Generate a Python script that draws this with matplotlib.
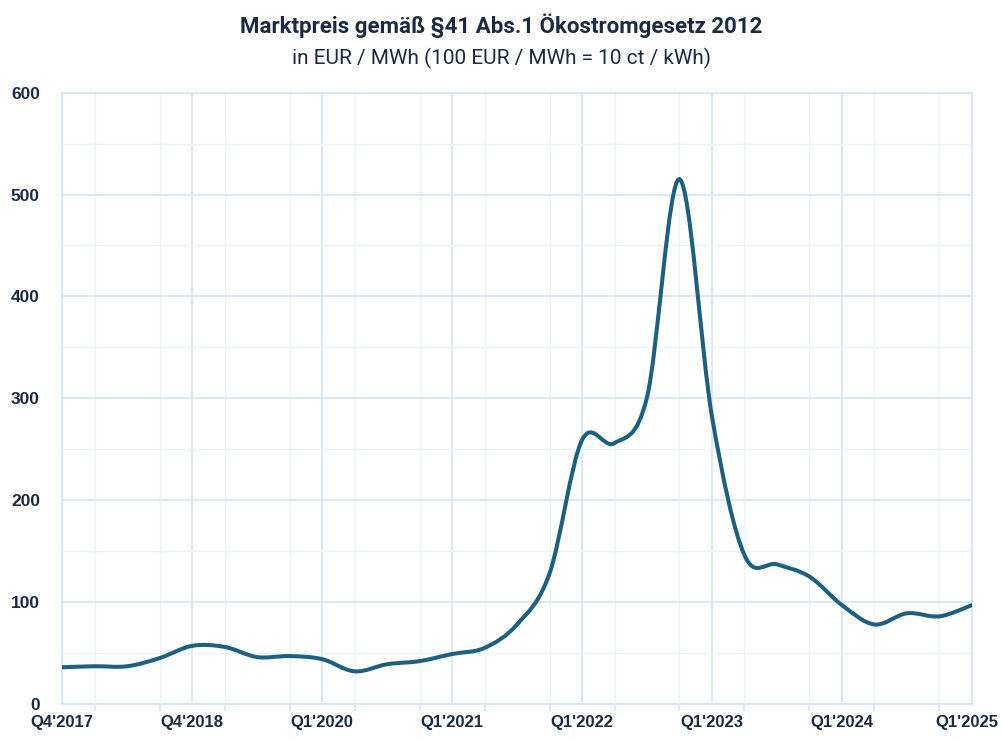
import matplotlib
matplotlib.use("Agg")
import matplotlib.pyplot as plt
import matplotlib.transforms as mtransforms
import numpy as np
from matplotlib.path import Path
from matplotlib.patches import PathPatch

# quarters (one quarter of 2019 is not in the source series)
quarters = ["Q4'2017", "Q1'2018", "Q2'2018", "Q3'2018", "Q4'2018",
            "Q1'2019", "Q2'2019", "Q3'2019", "Q1'2020",
            "Q2'2020", "Q3'2020", "Q4'2020", "Q1'2021",
            "Q2'2021", "Q3'2021", "Q4'2021", "Q1'2022",
            "Q2'2022", "Q3'2022", "Q4'2022", "Q1'2023",
            "Q2'2023", "Q3'2023", "Q4'2023", "Q1'2024",
            "Q2'2024", "Q3'2024", "Q4'2024", "Q1'2025"]
price = [36, 37, 37, 45, 57, 56, 46, 47, 44, 32, 39, 42, 49, 55,
         78, 128, 259, 256, 301, 515, 282, 146, 137, 125, 97, 78, 89, 86, 97]
shown_labels = ["Q4'2017", "Q4'2018", "Q1'2020", "Q1'2021",
                "Q1'2022", "Q1'2023", "Q1'2024", "Q1'2025"]

navy = '#1b2a44'
line_col = '#1b6080'
grid_major = '#d5e5f5'
grid_minor = '#edf3fa'

plt.rcParams['font.family'] = ['Liberation Sans', 'DejaVu Sans']

fig = plt.figure(figsize=(10.02, 7.41), dpi=100)
ax = fig.add_axes([0.062, 0.050, 0.908, 0.825])

x = np.arange(len(price), dtype=float)
y = np.array(price, dtype=float)

# smoothed line like the spreadsheet's "smoothed line" option (cubic bezier)
px = np.concatenate([[x[0]], x, [x[-1]]])
py = np.concatenate([[y[0]], y, [y[-1]]])
verts = [(x[0], y[0])]
codes = [Path.MOVETO]
for i in range(1, len(px) - 2):
    c1 = (px[i] + (px[i+1] - px[i-1]) / 6, py[i] + (py[i+1] - py[i-1]) / 6)
    c2 = (px[i+1] - (px[i+2] - px[i]) / 6, py[i+1] - (py[i+2] - py[i]) / 6)
    verts += [c1, c2, (px[i+1], py[i+1])]
    codes += [Path.CURVE4] * 3
ax.add_patch(PathPatch(Path(verts, codes), facecolor='none', edgecolor=line_col,
                       lw=2.9, capstyle='round', joinstyle='round', zorder=3))

ax.set_xlim(0, len(price) - 1)
ax.set_ylim(0, 600)
ax.set_yticks(np.arange(0, 601, 100))
ax.set_yticks(np.arange(50, 600, 100), minor=True)
pos = [quarters.index(q) for q in shown_labels]
ax.set_xticks(pos)
ax.set_xticklabels(shown_labels)
ax.set_xticks([i for i in range(len(quarters)) if i % 2 == 1], minor=True)

ax.grid(True, which='major', color=grid_major, lw=1.2, zorder=0)
ax.grid(True, which='minor', color=grid_minor, lw=1.0, zorder=0)
ax.set_axisbelow(True)

for s in ax.spines.values():
    s.set_color(grid_major)
    s.set_linewidth(1.2)

ax.tick_params(axis='x', which='major', length=0, pad=8, labelsize=12, labelcolor=navy)
ax.tick_params(axis='x', which='minor', length=5, color=grid_major, width=1.2)
ax.tick_params(axis='y', which='both', length=0, pad=16, labelsize=12.5, labelcolor=navy)
for lab in ax.get_xticklabels() + ax.get_yticklabels():
    lab.set_fontweight('bold')

# keep the last label inside the picture
last = ax.get_xticklabels()[-1]
last.set_transform(last.get_transform() + mtransforms.ScaledTranslation(-4 / 72, 0, fig.dpi_scale_trans))

fig.text(0.5, 0.965, 'Marktpreis gemäß §41 Abs.1 Ökostromgesetz 2012', ha='center', va='center',
         fontsize=16, fontweight='bold', color=navy, family=['Roboto', 'DejaVu Sans'])
fig.text(0.5, 0.921, 'in EUR / MWh (100 EUR / MWh = 10 ct / kWh)', ha='center', va='center',
         fontsize=15, color=navy, family=['Roboto', 'DejaVu Sans'])

fig.savefig('out.png', dpi=100)
